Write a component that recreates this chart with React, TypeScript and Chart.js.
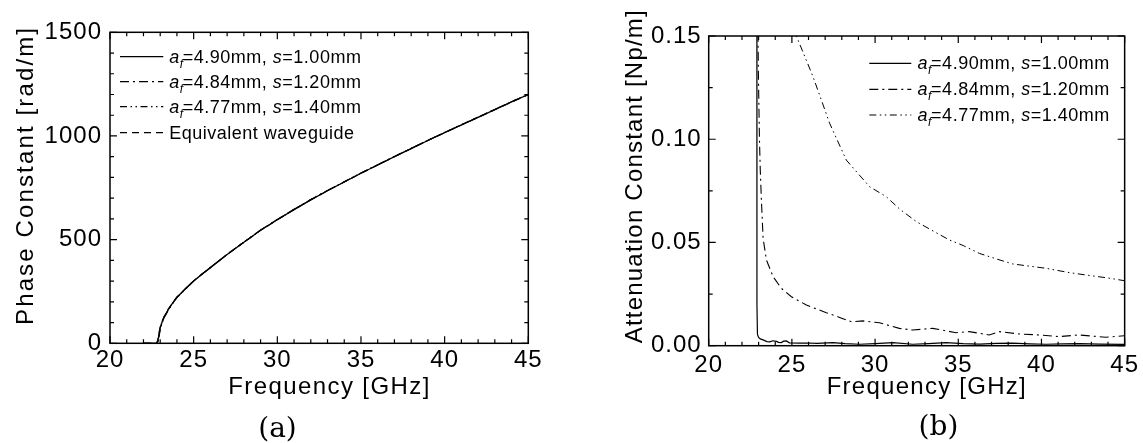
import React, { useEffect, useRef } from "react";
import { Chart, registerables } from "chart.js";

Chart.register(...registerables);

const FONT = '"Liberation Sans", Arial, Helvetica, sans-serif';
const SERIF = '"DejaVu Serif", "Liberation Serif", serif';

// ---------- Panel (a): phase constant ----------
const phaseFreq = [22.0, 22.8, 22.88, 22.95, 23.0, 23.1, 23.25, 23.5, 23.75, 24.0, 24.5, 25.0, 25.5, 26.0, 27.0, 28.0, 29.0, 30.0, 31.0, 32.0, 33.0, 34.0, 35.0, 36.0, 37.0, 38.0, 39.0, 40.0, 41.0, 42.0, 43.0, 44.0, 45.0];
const phaseS100 = [0, 0, 20, 55, 75, 100, 130, 165, 195, 222, 262, 300, 333, 365, 428, 487, 545, 596, 645, 692, 736, 778, 820, 860, 900, 939, 978, 1016, 1053, 1090, 1127, 1164, 1200];
const phaseS120 = [0, 0, 12, 48, 70, 97, 128, 163, 194, 221, 262, 301, 334, 366, 429, 488, 546, 597, 646, 693, 737, 779, 821, 861, 901, 940, 979, 1017, 1054, 1091, 1128, 1165, 1201];
const phaseS140 = [0, 0, 8, 42, 66, 94, 126, 162, 193, 221, 261, 300, 333, 366, 429, 488, 546, 597, 646, 693, 737, 779, 821, 861, 901, 940, 979, 1017, 1054, 1091, 1128, 1165, 1201];
const phaseEquiv = [0, 0, 25, 58, 78, 103, 132, 167, 197, 223, 263, 301, 334, 366, 428, 487, 545, 596, 645, 692, 736, 778, 820, 860, 900, 939, 978, 1016, 1053, 1090, 1127, 1164, 1199];
const phaseTicks = [0, 500, 1000, 1500];
const freqTicks = [20, 25, 30, 35, 40, 45];

// ---------- Panel (b): attenuation constant ----------
const attnFreqS100 = [22.88, 22.9, 22.93, 23.0, 23.1, 23.27, 23.5, 23.67, 23.85, 24.07, 24.2, 24.37, 24.5, 24.67, 24.85, 25.47, 26.0, 26.5, 27.47, 28.2, 29.07, 30.0, 31.07, 32.26, 33.2, 34.26, 35.3, 36.27, 37.3, 38.27, 39.3, 40.27, 41.3, 42.27, 43.5, 44.97];
const attnS100 = [0.6, 0.02, 0.0055, 0.004, 0.0033, 0.0028, 0.002, 0.0019, 0.0024, 0.0021, 0.0016, 0.0015, 0.0022, 0.0023, 0.0014, 0.0012, 0.0013, 0.0011, 0.0015, 0.001, 0.0007, 0.001, 0.0015, 0.0007, 0.001, 0.0015, 0.001, 0.0008, 0.0011, 0.0012, 0.0009, 0.0007, 0.0009, 0.001, 0.0008, 0.0006];
const attnFreqS120 = [22.93, 22.95, 22.99, 23.05, 23.1, 23.17, 23.27, 23.47, 23.87, 24.37, 24.97, 25.87, 27.07, 27.87, 28.57, 29.27, 30.26, 31.46, 32.26, 33.46, 34.86, 35.66, 36.86, 37.46, 38.66, 39.86, 41.06, 42.26, 43.86, 44.96];
const attnS120 = [0.4, 0.16, 0.13, 0.1, 0.085, 0.07, 0.052, 0.0415, 0.0334, 0.0278, 0.0237, 0.0197, 0.016, 0.0137, 0.0116, 0.012, 0.0111, 0.0084, 0.0076, 0.0084, 0.0063, 0.0068, 0.0052, 0.0068, 0.0057, 0.0052, 0.0044, 0.0052, 0.0041, 0.0048];
const attnFreqS140 = [25.0, 25.27, 26.27, 27.27, 28.27, 29.67, 30.67, 31.5, 32.5, 33.5, 34.47, 35.3, 36.27, 37.3, 38.27, 39.3, 40.27, 41.67, 43.07, 44.0, 44.97];
const attnS140 = [0.165, 0.15, 0.1303, 0.1077, 0.0899, 0.077, 0.0722, 0.066, 0.06, 0.0555, 0.0512, 0.0485, 0.0447, 0.042, 0.0396, 0.0385, 0.0375, 0.0354, 0.0338, 0.0328, 0.0315];
const attnTicks = [0, 0.05, 0.1, 0.15];

// ---------- legend labels ----------
const legendAf = ["4.90", "4.84", "4.77"];
const legendS = ["1.00", "1.20", "1.40"];
const legendEquiv = "Equivalent waveguide";

const DASH_SOLID: number[] = [];
const DASH_DOT = [9, 4, 2, 4];
const DASH_DOTDOT = [7, 3.5, 1.5, 3.5, 1.5, 3.5];
const DASH_DASH = [7, 5];

type Part = { t: string; italic?: boolean; sub?: boolean };
type LegendItem = { dash: number[]; parts: Part[] };

function afParts(i: number): Part[] {
  return [
    { t: "a", italic: true },
    { t: "f", italic: true, sub: true },
    { t: "=" + legendAf[i] + "mm, " },
    { t: "s", italic: true },
    { t: "=" + legendS[i] + "mm" },
  ];
}

function pts(xs: number[], ys: number[]) {
  return xs.map((x, i) => ({ x, y: ys[i] }));
}

type PanelCfg = {
  width: number;
  yMax: number;
  yTicks: number[];
  yMinor: number;
  yFmt: (v: number) => string;
  yAxisW: number;
  xAxisH: number;
  padTop: number;
  padRight: number;
  xTickPad: number;
  yTickPad: number;
  xTitle: { text: string; x: number; base: number; len: number };
  yTitle: { text: string; base: number; y: number; len: number };
  legend: { x1: number; x2: number; tx: number; rows: number[]; items: LegendItem[] };
  caption: { text: string; cx: number; base: number };
  datasets: any[];
};

function drawSpaced(ctx: CanvasRenderingContext2D, text: string, x: number, y: number, len: number) {
  (ctx as any).letterSpacing = "0px";
  const w0 = ctx.measureText(text).width;
  const sp = Math.max(0, (len - w0) / (text.length - 1));
  (ctx as any).letterSpacing = sp + "px";
  ctx.textAlign = "left";
  ctx.fillText(text, x, y);
  (ctx as any).letterSpacing = "0px";
}

function makePlugin(p: PanelCfg) {
  return {
    id: "paperFrame",
    beforeDraw(chart: any) {
      (chart.ctx as any).letterSpacing = "1px";
    },
    afterDatasetsDraw(chart: any) {
      const ctx: CanvasRenderingContext2D = chart.ctx;
      const a = chart.chartArea;
      const xs = chart.scales.x;
      const ys = chart.scales.y;
      ctx.save();
      ctx.strokeStyle = "#000";
      ctx.lineWidth = 1.2;
      ctx.beginPath();
      for (let v = 20; v <= 45 + 1e-9; v += 1) {
        const px = xs.getPixelForValue(v);
        const major = freqTicks.some((t) => Math.abs(t - v) < 1e-6);
        const len = major ? 7 : 4;
        ctx.moveTo(px, a.bottom);
        ctx.lineTo(px, a.bottom - len);
        ctx.moveTo(px, a.top);
        ctx.lineTo(px, a.top + len);
      }
      const n = Math.round(p.yMax / p.yMinor);
      for (let i = 0; i <= n; i++) {
        const v = i * p.yMinor;
        const py = ys.getPixelForValue(v);
        const major = p.yTicks.some((t) => Math.abs(t - v) < p.yMinor * 1e-3);
        const len = major ? 7 : 4;
        ctx.moveTo(a.left, py);
        ctx.lineTo(a.left + len, py);
        ctx.moveTo(a.right, py);
        ctx.lineTo(a.right - len, py);
      }
      ctx.stroke();
      ctx.lineWidth = 1.5;
      ctx.strokeRect(a.left, a.top, a.right - a.left, a.bottom - a.top);
      ctx.restore();
    },
    afterDraw(chart: any) {
      const ctx: CanvasRenderingContext2D = chart.ctx;
      ctx.save();
      ctx.fillStyle = "#000";
      ctx.textBaseline = "alphabetic";
      // axis titles
      ctx.font = `24px ${FONT}`;
      drawSpaced(ctx, p.xTitle.text, p.xTitle.x, p.xTitle.base, p.xTitle.len);
      ctx.save();
      ctx.translate(p.yTitle.base, p.yTitle.y);
      ctx.rotate(-Math.PI / 2);
      drawSpaced(ctx, p.yTitle.text, 0, 0, p.yTitle.len);
      ctx.restore();
      // legend
      const L = p.legend;
      L.items.forEach((it, i) => {
        const y = L.rows[i];
        ctx.save();
        ctx.strokeStyle = "#000";
        ctx.lineWidth = 1.2;
        ctx.setLineDash(it.dash);
        ctx.beginPath();
        ctx.moveTo(L.x1, y);
        ctx.lineTo(L.x2, y);
        ctx.stroke();
        ctx.restore();
        let cx = L.tx;
        const base = y + 6;
        (ctx as any).letterSpacing = "0.5px";
        ctx.textAlign = "left";
        for (const part of it.parts) {
          const size = part.sub ? 12 : 18;
          ctx.font = `${part.italic ? "italic " : ""}${size}px ${FONT}`;
          const w = ctx.measureText(part.t).width;
          ctx.fillText(part.t, cx, base + (part.sub ? 5 : 0));
          cx += part.sub ? 3 : w;
        }
        (ctx as any).letterSpacing = "0px";
      });
      // caption
      ctx.font = `28px ${SERIF}`;
      ctx.textAlign = "center";
      ctx.fillText(p.caption.text, p.caption.cx, p.caption.base);
      ctx.restore();
    },
  };
}

function buildConfig(p: PanelCfg): any {
  return {
    type: "line",
    data: { datasets: p.datasets },
    options: {
      responsive: false,
      animation: false,
      events: [],
      parsing: true,
      layout: { padding: { left: 0, top: p.padTop, right: p.padRight, bottom: 0 } },
      plugins: { legend: { display: false }, tooltip: { enabled: false }, title: { display: false } },
      elements: { point: { radius: 0 }, line: { tension: 0 } },
      scales: {
        x: {
          type: "linear",
          min: 20,
          max: 45,
          border: { display: false },
          grid: { display: false, drawTicks: false },
          ticks: { font: { family: FONT, size: 24 }, color: "#000", padding: p.xTickPad, maxRotation: 0, autoSkip: false },
          afterBuildTicks: (s: any) => {
            s.ticks = freqTicks.map((v) => ({ value: v }));
          },
          afterFit: (s: any) => {
            s.height = p.xAxisH;
          },
        },
        y: {
          type: "linear",
          min: 0,
          max: p.yMax,
          border: { display: false },
          grid: { display: false, drawTicks: false },
          ticks: {
            font: { family: FONT, size: 24 },
            color: "#000",
            padding: p.yTickPad,
            autoSkip: false,
            callback: (v: any) => p.yFmt(Number(v)),
          },
          afterBuildTicks: (s: any) => {
            s.ticks = p.yTicks.map((v) => ({ value: v }));
          },
          afterFit: (s: any) => {
            s.width = p.yAxisW;
          },
        },
      },
    },
    plugins: [makePlugin(p)],
  };
}

function ds(data: { x: number; y: number }[], dash: number[], width: number) {
  return {
    data,
    borderColor: "#000",
    borderWidth: width,
    borderDash: dash,
    pointRadius: 0,
    fill: false,
    tension: 0,
  };
}

const panelA: PanelCfg = {
  width: 571,
  yMax: 1500,
  yTicks: phaseTicks,
  yMinor: 100,
  yFmt: (v) => String(Math.round(v)),
  yAxisW: 110,
  xAxisH: 443 - 343.3,
  padTop: 32.3,
  padRight: 571 - 528.3,
  xTickPad: 3,
  yTickPad: 8,
  xTitle: { text: "Frequency [GHz]", x: 228.3, base: 394.3, len: 201 },
  yTitle: { text: "Phase Constant [rad/m]", base: 33.3, y: 325, len: 297 },
  legend: {
    x1: 120,
    x2: 163.3,
    tx: 169.3,
    rows: [56.7, 81.7, 106.7, 132.7],
    items: [
      { dash: DASH_SOLID, parts: afParts(0) },
      { dash: DASH_DOT, parts: afParts(1) },
      { dash: DASH_DOTDOT, parts: afParts(2) },
      { dash: DASH_DASH, parts: [{ t: legendEquiv }] },
    ],
  },
  caption: { text: "(a)", cx: 277.5, base: 436.7 },
  datasets: [
    ds(pts(phaseFreq, phaseEquiv), DASH_DASH, 1.2),
    ds(pts(phaseFreq, phaseS140), DASH_DOTDOT, 1.2),
    ds(pts(phaseFreq, phaseS120), DASH_DOT, 1.2),
    ds(pts(phaseFreq, phaseS100), DASH_SOLID, 1.3),
  ],
};

const RX = 571;
const panelB: PanelCfg = {
  width: 572,
  yMax: 0.15,
  yTicks: attnTicks,
  yMinor: 0.025,
  yFmt: (v) => v.toFixed(2),
  yAxisW: 708.7 - RX,
  xAxisH: 443 - 345.7,
  padTop: 36,
  padRight: 572 - (1125.7 - RX),
  xTickPad: 5,
  yTickPad: 7,
  xTitle: { text: "Frequency [GHz]", x: 826.7 - RX, base: 394, len: 199 },
  yTitle: { text: "Attenuation Constant [Np/m]", base: 641.7 - RX, y: 343.3, len: 333 },
  legend: {
    x1: 869.3 - RX,
    x2: 911.3 - RX,
    tx: 917.6 - RX,
    rows: [63.3, 89.3, 115],
    items: [
      { dash: DASH_SOLID, parts: afParts(0) },
      { dash: DASH_DOT, parts: afParts(1) },
      { dash: DASH_DOTDOT, parts: afParts(2) },
    ],
  },
  caption: { text: "(b)", cx: 938.5 - RX, base: 435 },
  datasets: [
    ds(pts(attnFreqS140, attnS140), DASH_DOTDOT, 1.0),
    ds(pts(attnFreqS120, attnS120), DASH_DOT, 1.1),
    ds(pts(attnFreqS100, attnS100), DASH_SOLID, 1.2),
  ],
};

function Panel({ cfg, left }: { cfg: PanelCfg; left: number }) {
  const ref = useRef<HTMLCanvasElement>(null);
  useEffect(() => {
    const chart = new Chart(ref.current as HTMLCanvasElement, buildConfig(cfg));
    return () => chart.destroy();
  }, []);
  return (
    <canvas
      ref={ref}
      width={cfg.width}
      height={443}
      style={{ position: "absolute", left, top: 0, width: cfg.width, height: 443, display: "block" }}
    />
  );
}

export default function App() {
  return (
    <div style={{ position: "absolute", left: 0, top: 0, width: 1143, height: 443, background: "#fff", overflow: "hidden" }}>
      <Panel cfg={panelA} left={0} />
      <Panel cfg={panelB} left={RX} />
    </div>
  );
}
